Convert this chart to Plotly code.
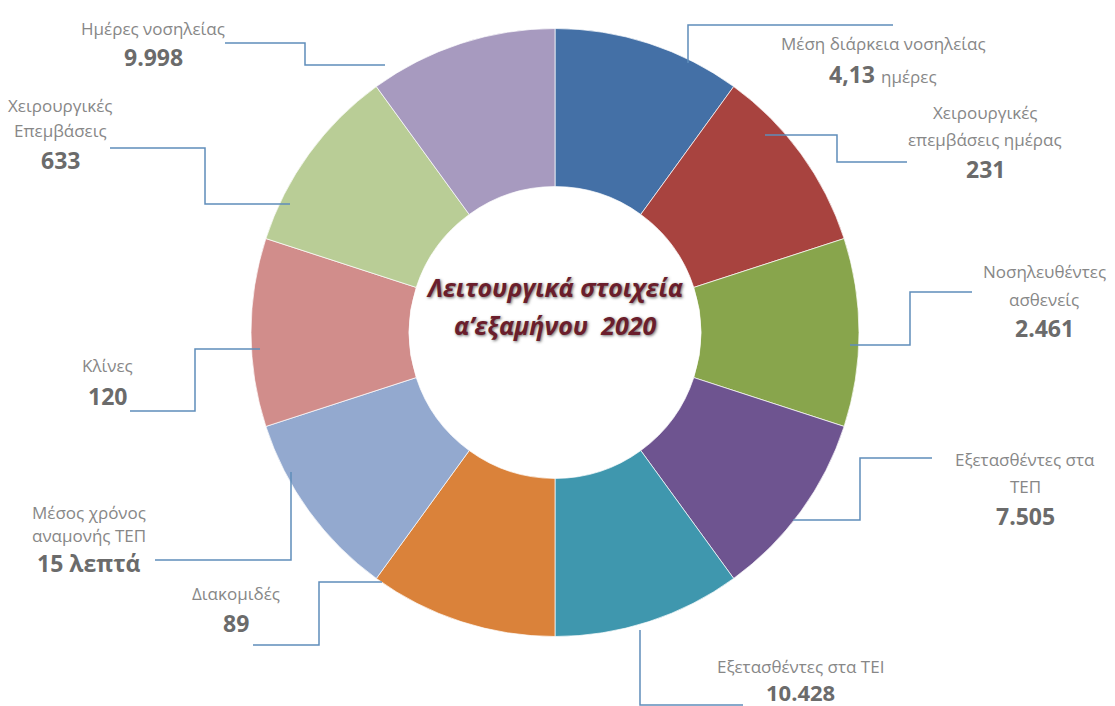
import plotly.graph_objects as go

# ---- data -------------------------------------------------------------
categories = [
    "Μέση διάρκεια νοσηλείας",
    "Χειρουργικές επεμβάσεις ημέρας",
    "Νοσηλευθέντες ασθενείς",
    "Εξετασθέντες στα ΤΕΠ",
    "Εξετασθέντες στα ΤΕΙ",
    "Διακομιδές",
    "Μέσος χρόνος αναμονής ΤΕΠ",
    "Κλίνες",
    "Χειρουργικές Επεμβάσεις",
    "Ημέρες νοσηλείας",
]
value_texts = ["4,13", "231", "2.461", "7.505", "10.428", "89", "15", "120", "633", "9.998"]
value_units = ["ημέρες", "", "", "", "", "", "λεπτά", "", "", ""]
# every segment of the ring has the same size
slice_weights = [1, 1, 1, 1, 1, 1, 1, 1, 1, 1]
center_title = ["Λειτουργικά στοιχεία", "α’εξαμήνου\u00a0\u00a02020"]

# ---- styling ----------------------------------------------------------
slice_colors = ["#4470A6", "#A8433F", "#88A54C", "#6E5490", "#3F97AE",
                "#DA823A", "#93A9CF", "#D18D8B", "#B9CD96", "#A79ABF"]
label_wrap = [
    ["Μέση διάρκεια νοσηλείας"],
    ["Χειρουργικές", "επεμβάσεις ημέρας"],
    ["Νοσηλευθέντες", "ασθενείς"],
    ["Εξετασθέντες στα", "ΤΕΠ"],
    ["Εξετασθέντες στα ΤΕΙ"],
    ["Διακομιδές"],
    ["Μέσος χρόνος", "αναμονής ΤΕΠ"],
    ["Κλίνες"],
    ["Χειρουργικές", "Επεμβάσεις"],
    ["Ημέρες νοσηλείας"],
]
# label block: centre x and the y of each text row (pixels from top-left)
label_pos = [
    (883, [43, 74]),
    (985, [112, 140, 169]),
    (1044, [272, 299, 328]),
    (1025, [460, 486, 516]),
    (800, [666, 692]),
    (236, [593, 623]),
    (89, [512, 535, 563]),
    (107, [365, 396]),
    (60, [105, 130, 160]),
    (153, [28, 57]),
]
# leader-line polylines (pixels from top-left)
leader_paths = [
    [(688, 63), (688, 25), (893, 25)],
    [(765, 135), (837, 135), (837, 162), (907, 162)],
    [(850, 345), (910, 345), (910, 292), (972, 292)],
    [(793, 520), (860, 520), (860, 458), (932, 458)],
    [(640, 630), (640, 705), (743, 705)],
    [(382, 582), (319, 582), (319, 645), (253, 645)],
    [(291, 472), (291, 560), (155, 560)],
    [(260, 349), (195, 349), (195, 411), (130, 411)],
    [(290, 204), (205, 204), (205, 148), (110, 148)],
    [(385, 65), (305, 65), (305, 43), (225, 43)],
]

W, H = 1115, 706
CX, CY, R = 555, 332.5, 304
LABEL_FONT = "Open Sans"
LABEL_SIZE = 17
VALUE_SIZE = 23
LABEL_GREY = "#878787"
VALUE_GREY = "#6B6B6B"
LINE_BLUE = "#5F8DBA"


def px(x, y):
    return x / W, 1 - y / H


fig = go.Figure(
    go.Pie(
        labels=categories,
        values=slice_weights,
        text=value_texts,
        sort=False,
        direction="clockwise",
        rotation=0,
        hole=0.48,
        marker=dict(colors=slice_colors,
                    line=dict(color="rgba(255,255,255,0.7)", width=1)),
        textinfo="none",
        hovertemplate="%{label}: %{text}<extra></extra>",
        showlegend=False,
        domain=dict(x=[(CX - R) / W, (CX + R) / W],
                    y=[1 - (CY + R) / H, 1 - (CY - R) / H]),
    )
)

annotations = []
shapes = []
for i, cat in enumerate(categories):
    cx, rows = label_pos[i]
    lines = label_wrap[i]
    for line, ry in zip(lines, rows):
        x, y = px(cx, ry)
        annotations.append(dict(
            x=x, y=y, xref="paper", yref="paper", text=line, showarrow=False,
            xanchor="center", yanchor="middle",
            font=dict(family=LABEL_FONT, size=LABEL_SIZE, color=LABEL_GREY)))
    unit = value_units[i]
    if unit == "ημέρες":
        vtext = (f"<b>{value_texts[i]}</b> "
                 f"<span style='font-size:{LABEL_SIZE}px;color:{LABEL_GREY}'>{unit}</span>")
    elif unit:
        vtext = f"<b>{value_texts[i]} {unit}</b>"
    else:
        vtext = f"<b>{value_texts[i]}</b>"
    x, y = px(cx, rows[len(lines)])
    vsize = VALUE_SIZE - 1 if rows[len(lines)] > 680 else VALUE_SIZE
    annotations.append(dict(
        x=x, y=y, xref="paper", yref="paper", text=vtext, showarrow=False,
        xanchor="center", yanchor="middle",
        font=dict(family=LABEL_FONT, size=vsize, color=VALUE_GREY)))

    pts = [px(a, b) for a, b in leader_paths[i]]
    path = "M " + " L ".join(f"{a:.5f},{b:.5f}" for a, b in pts)
    shapes.append(dict(type="path", xref="paper", yref="paper", path=path,
                       line=dict(color=LINE_BLUE, width=1.5)))

# title in the hole of the ring
for line, ry in zip(center_title, [287, 325]):
    x, y = px(CX, ry)
    annotations.append(dict(
        x=x, y=y, xref="paper", yref="paper",
        text=f"<b><i>{line}</i></b>", showarrow=False,
        xanchor="center", yanchor="middle",
        font=dict(family=LABEL_FONT, size=25, color="#6A1E2C",
                  shadow="1px 1px 3px rgba(60,60,60,0.75)")))

fig.update_layout(
    width=W, height=H,
    margin=dict(l=0, r=0, t=0, b=0),
    paper_bgcolor="white",
    plot_bgcolor="white",
    annotations=annotations,
    shapes=shapes,
)

fig.write_html("out.html")
